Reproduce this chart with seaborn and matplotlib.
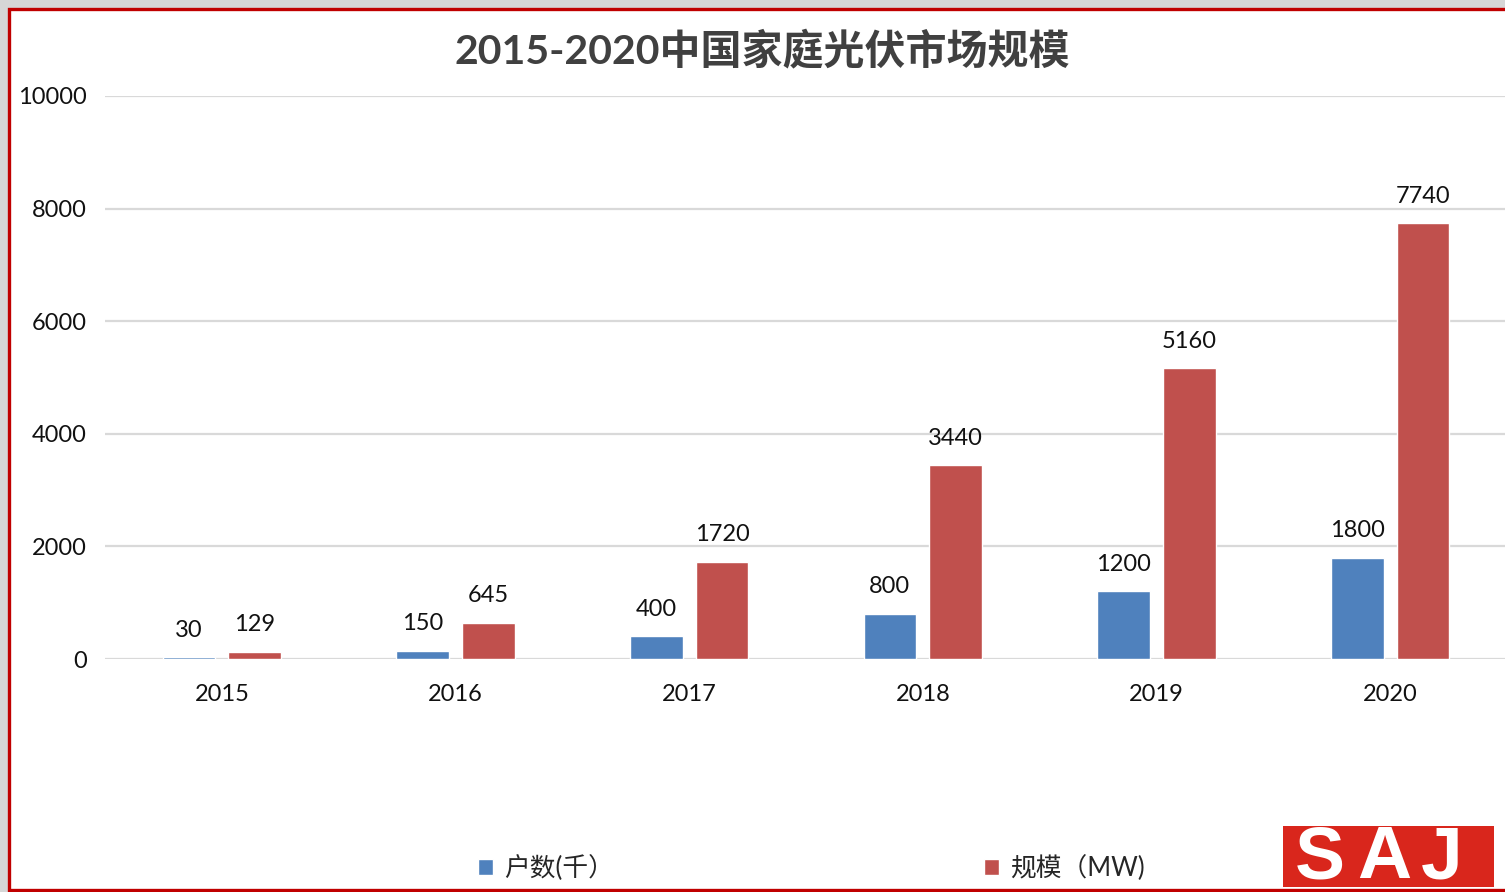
import seaborn as sns
import matplotlib.pyplot as plt
from matplotlib.patches import Rectangle
import pandas as pd

# data
years = ['2015', '2016', '2017', '2018', '2019', '2020']
households = [30, 150, 400, 800, 1200, 1800]      # 户数(千）
capacity = [129, 645, 1720, 3440, 5160, 7740]     # 规模（MW)
series_names = ['户数(千）', '规模（MW)']
y_ticks = [0, 2000, 4000, 6000, 8000, 10000]
title = '2015-2020中国家庭光伏市场规模'

W, H = 1505, 892
BLUE = '#4F81BD'
RED = '#C0504D'

sns.set_theme(style='white')
plt.rcParams['font.family'] = ['Lato', 'Noto Sans CJK SC', 'DejaVu Sans']

df = pd.DataFrame({'年份': years, series_names[0]: households, series_names[1]: capacity})
df = df.melt(id_vars='年份', var_name='系列', value_name='数值')

fig = plt.figure(figsize=(W / 100, H / 100), dpi=100, facecolor='#d6d6d6')

# white page with red frame
page = Rectangle((9 / W, 2 / H), 1.2, 1 - 11 / H, transform=fig.transFigure,
                 facecolor='white', edgecolor='#c00000', linewidth=2.4, zorder=-1)
fig.patches.append(page)

ax = fig.add_axes([105 / W, 1 - 659 / H, 1402 / W, 563 / H])
ax.set_facecolor('none')

sns.barplot(data=df, x='年份', y='数值', hue='系列', hue_order=series_names,
            palette=[BLUE, RED], saturation=1, width=0.564, gap=0.2,
            errorbar=None, ax=ax)

for c in ax.containers:
    ax.bar_label(c, fmt='{:.0f}', padding=12, fontsize=17, color='#111111')

ax.set_xlim(-0.5, 5.5)
ax.set_ylim(0, 10000)
ax.set_yticks(y_ticks)
ax.set_xlabel('')
ax.set_ylabel('')
ax.grid(axis='y', color='#d9d9d9', linewidth=1.6)
ax.grid(axis='x', visible=False)
ax.set_axisbelow(True)
for s in ax.spines.values():
    s.set_visible(False)
ax.tick_params(axis='y', length=0, pad=13, labelsize=17, labelcolor='#111111')
ax.tick_params(axis='x', length=0, pad=18, labelsize=17, labelcolor='#111111')

fig.text(762 / W, 1 - 50 / H, title, ha='center', va='center',
         fontsize=29.5, fontweight='bold', color='#404040')

# legend: two entries placed apart along the bottom
handles, labels = ax.get_legend_handles_labels()
ax.get_legend().remove()
for h, lab, x0 in zip(handles, labels, [478, 984]):
    fig.legend([h], [lab], loc='center left', bbox_to_anchor=(x0 / W, 1 - 868 / H),
               frameon=False, fontsize=18.5, handlelength=0.6, handleheight=0.6,
               handletextpad=0.4, borderpad=0, borderaxespad=0)

# SAJ logo
logo = Rectangle((1283 / W, 1 - 887 / H), 211 / W, 61 / H, transform=fig.transFigure,
                 facecolor='#d9261c', edgecolor='none', zorder=2)
fig.patches.append(logo)
for ch, xc in zip('SAJ', [1320, 1384, 1442]):
    fig.text(xc / W, 1 - 859 / H, ch, ha='center', va='center', fontsize=54,
             fontweight='bold', color='white', family='Liberation Sans', zorder=3)

fig.savefig('out.png', dpi=100, facecolor=fig.get_facecolor())
